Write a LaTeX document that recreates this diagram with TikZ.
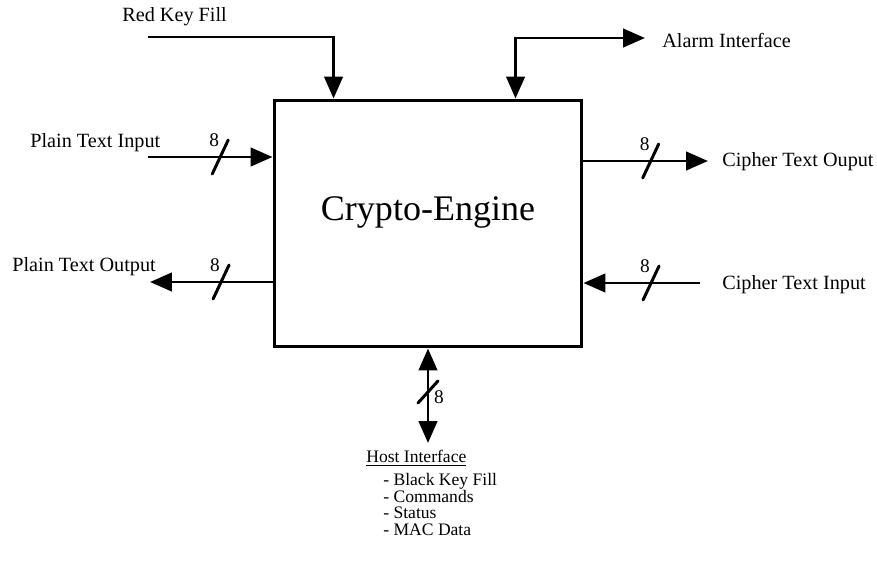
\documentclass[tikz,border=0pt]{standalone}
\usepackage{fontspec}
\setmainfont{Liberation Serif}
\usetikzlibrary{arrows.meta,calc}

\begin{document}
\begin{tikzpicture}[x=0.02cm,y=-0.02cm,>={Triangle[length=12.5pt,width=10.5pt]},
  wire/.style={line width=1.7pt},
  busmark/.style={line width=1.7pt,line cap=round},
  lbl/.style={font=\fontsize{11.5}{13}\selectfont,anchor=west,inner sep=0pt},
  buswidth/.style={font=\fontsize{11}{12}\selectfont,inner sep=0pt}]

  \useasboundingbox (0,0) rectangle (877,579);

  % the engine itself
  \node[draw,line width=1.7pt,minimum width=6.16cm,minimum height=4.94cm,inner sep=0pt] (engine) at (428,223.5) {};
  \node[font=\fontsize{20.5}{24}\selectfont] (title) at (428,212) {Crypto-Engine};

  % key fill and alarm on top
  \node[lbl] (redkey) at (122,17) {Red Key Fill};
  \coordinate (redkeyin) at (148,37);
  \draw[wire,->] (redkeyin) -| ($(engine.north west)+(61,0)$);

  \node[lbl] (alarm) at (662,40) {Alarm Interface};
  \coordinate (alarmout) at (645,38);
  \draw[wire,<->] ($(engine.north west)+(243,0)$) |- (alarmout);

  % plain text side
  \node[lbl] (ptin) at (30,143) {Plain Text Input};
  \coordinate (ptinwire) at (148,157);
  \draw[wire,->] (ptinwire) -- (ptinwire -| engine.west) coordinate[pos=0.58] (ptinbus);

  \node[lbl] (ptout) at (12,267) {Plain Text Output};
  \coordinate (ptoutwire) at (150,282);
  \draw[wire,->] (ptoutwire -| engine.west) -- (ptoutwire) coordinate[pos=0.42] (ptoutbus);

  % cipher text side
  \node[lbl] (ctout) at (722,162) {Cipher Text Ouput};
  \coordinate (ctoutwire) at (708,161);
  \draw[wire,->] (ctoutwire -| engine.east) -- (ctoutwire) coordinate[pos=0.54] (ctoutbus);

  \node[lbl] (ctin) at (722,285) {Cipher Text Input};
  \coordinate (ctinwire) at (700,283);
  \draw[wire,->] (ctinwire) -- (ctinwire -| engine.east) coordinate[pos=0.42] (ctinbus);

  % 8 bit buses
  \foreach \b in {ptinbus,ptoutbus,ctoutbus,ctinbus} {
    \draw[busmark] ($(\b)+(-8,17)$) -- ($(\b)+(8,-17)$);
    \node[buswidth] (\b-w) at ($(\b)+(-6,-17)$) {8};
  }

  % host side
  \coordinate (hostend) at (428,443);
  \draw[wire,<->] (engine.south) -- (hostend) coordinate[pos=0.46] (hostbus);
  \draw[busmark] ($(hostbus)+(-10,11)$) -- ($(hostbus)+(10,-11)$);
  \node[buswidth] (hostbus-w) at ($(hostbus)+(11,5)$) {8};

  \node[font=\fontsize{10}{12}\selectfont,anchor=west,inner sep=0pt] (host) at (366,458) {\underline{Host Interface}};
  \node[font=\fontsize{10}{9.5}\selectfont,anchor=north west,align=left,inner sep=0pt] (hostlist) at (383,473)
    {- Black Key Fill\\- Commands\\- Status\\- MAC Data};
\end{tikzpicture}
\end{document}
